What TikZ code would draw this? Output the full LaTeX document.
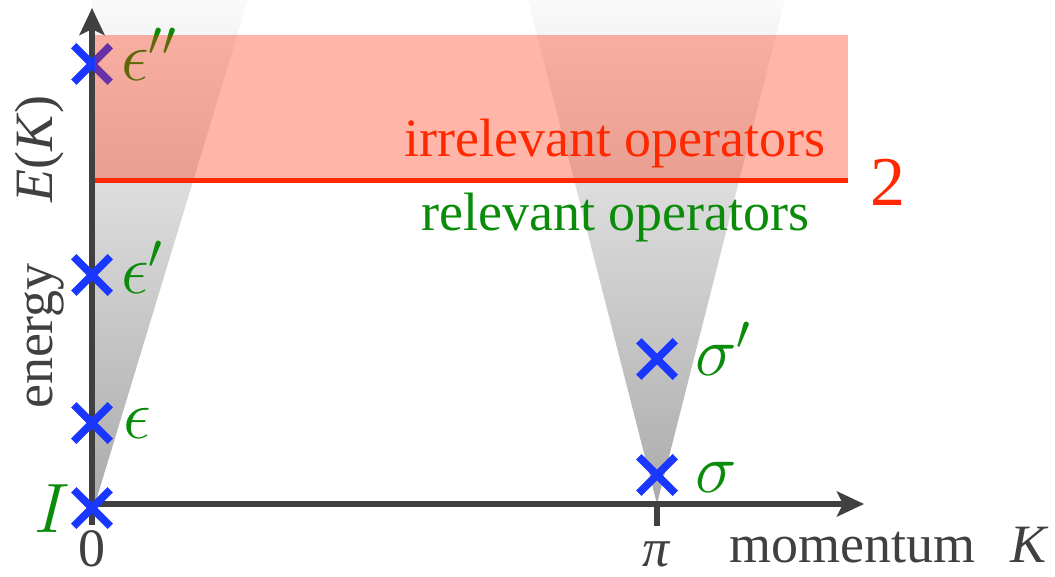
\RequirePackage{fix-cm}
\documentclass[tikz,border=0pt]{standalone}
\usepackage{fontspec}
\setmainfont{Liberation Serif}
\usetikzlibrary{arrows.meta,shapes.misc}
\definecolor{axisgray}{RGB}{64,64,64}
\definecolor{xblue}{RGB}{25,55,255}
\definecolor{lgreen}{RGB}{10,140,10}
\definecolor{lred}{RGB}{255,40,0}
\tikzset{
  axis/.style={draw=axisgray,line width=6pt,-{Stealth[length=27pt,width=25pt,inset=6pt]}},
  xmark/.style={cross out,draw=xblue,line width=7.5pt,minimum size=29pt,inner sep=0pt},
  lab/.style={text=lgreen,font=\fontsize{70}{80}\selectfont,inner sep=0pt,anchor=base west},
  txt/.style={font=\fontsize{54}{60}\selectfont,inner sep=0pt},
  cone/.style={top color=black!2,bottom color=black!33}
}
\begin{document}
\begin{tikzpicture}[x=1pt,y=-1pt]
\useasboundingbox (0,0) rectangle (1055,577);
% cones
\shade[cone] (92,504) -- (92,0) -- (248,0) -- (95,504) -- cycle;
\shade[cone] (528,0) -- (785,0) -- (657,504) -- cycle;
% axes
\coordinate (o) at (92,504);
\coordinate (ybot) at (92,525);
\coordinate (ytop) at (92,8);
\coordinate (xend) at (864,504);
\coordinate (pib) at (657,504);
\coordinate (pit) at (657,526);
\draw[axis] (ybot) -- (ytop);
\draw[axis] (o) -- (xend);
\draw[draw=axisgray,line width=6pt] (pib) -- (pit);
% crosses
\node[xmark] (xI) at (92,508) {};
\node[xmark] (xe) at (92,423) {};
\node[xmark] (xe1) at (92,275) {};
\node[xmark] (xe2) at (92,64) {};
\node[xmark] (xs) at (657,475) {};
\node[xmark] (xs1) at (657,359) {};
% labels
\node[lab] (lI) at (34,532) {$I$};
\node[lab] (le) at (123,438) {$\epsilon$};
\node[lab] (le1) at (121,294) {$\epsilon'$};
\node[lab] (le2) at (121,81) {$\epsilon''$};
\node[lab] (ls) at (695,492) {$\sigma$};
\node[lab] (ls1) at (695,375) {$\sigma'$};
% red region
\fill[lred,opacity=0.34] (95,35) rectangle (848,181);
\draw[lred,line width=5pt] (95,181) -- (848,181);
\node[txt,text=lred,anchor=base east] (irr) at (826,157) {irrelevant operators};
\node[txt,text=lgreen,anchor=base east] (rel) at (810,231) {relevant operators};
\node[inner sep=0pt,text=lred,font=\fontsize{70}{80}\selectfont,anchor=base] (two) at (888,206) {2};
% axis labels
\node[txt,text=axisgray,anchor=base] (zero) at (92,566) {0};
\node[txt,text=axisgray,anchor=base] (pi) at (657,566) {\textit{π}};
\node[txt,text=axisgray,anchor=base west] (mom) at (729,562) {momentum};
\node[txt,text=axisgray,anchor=base west] (K) at (1010,562) {\textit{K}};
\node[txt,text=axisgray,anchor=base,rotate=90] (en) at (52,336) {energy};
\node[txt,text=axisgray,anchor=base,rotate=90] (EK) at (52,149) {\textit{E}(\textit{K})};
\end{tikzpicture}
\end{document}
